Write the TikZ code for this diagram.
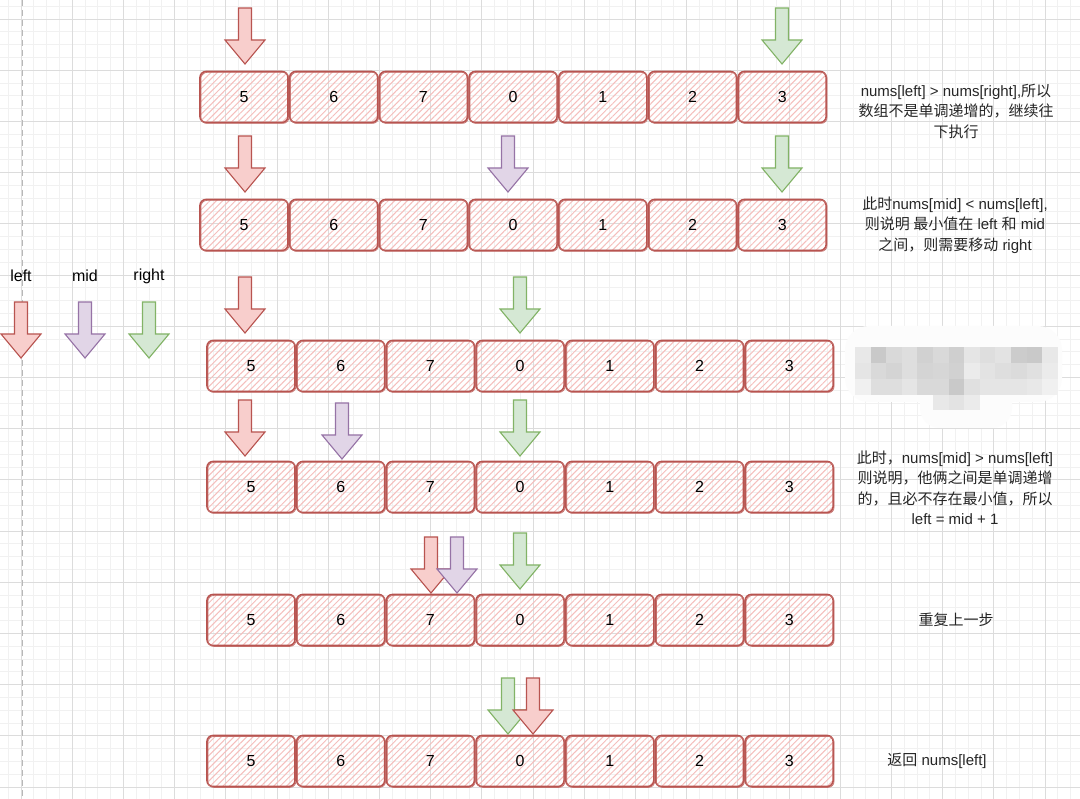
\documentclass[tikz,border=0pt]{standalone}
\usepackage{fontspec}
\setmainfont{Liberation Sans}
\newfontfamily\cjk{Noto Sans CJK SC}
\usetikzlibrary{positioning}
\usetikzlibrary{patterns.meta}

\definecolor{boxred}{HTML}{B85450}
\definecolor{hatch}{HTML}{F5BEBC}
\definecolor{redfill}{HTML}{F8CECC}
\definecolor{purfill}{HTML}{E1D5E7}
\definecolor{purline}{HTML}{9673A6}
\definecolor{grnfill}{HTML}{D5E8D4}
\definecolor{grnline}{HTML}{82B366}
\definecolor{minorgrid}{HTML}{F1F1F1}
\definecolor{majorgrid}{HTML}{DCDCDC}

\begin{document}
\begin{tikzpicture}[x=1pt,y=-1pt,
		cell/.style={minimum width=88pt,minimum height=51pt,inner sep=0pt,
			rounded corners=6pt,draw=boxred,line width=1.6pt,
			pattern={Lines[angle=45,distance=4.5pt,line width=1pt]},pattern color=hatch,
			font=\fontsize{16}{18}\selectfont,
			postaction={draw=boxred!85,line width=0.7pt,
				transform canvas={xshift=0.9pt,yshift=-0.9pt}}},
		note/.style={align=center,font=\fontsize{15}{20.5}\selectfont,text=black!85},
		lgd/.style={font=\fontsize{16}{18}\selectfont},
		lp/.style={fill=redfill,draw=boxred},
		mp/.style={fill=purfill,draw=purline},
		rp/.style={fill=grnfill,draw=grnline},
		ptr/.pic={\draw[pic actions,line width=1.1pt]
			(-6.5,-56) -- (6.5,-56) -- (6.5,-24) -- (20,-24) -- (0,0)
			-- (-20,-24) -- (-6.5,-24) -- cycle;}]
		\useasboundingbox (0,0) rectangle (1080,799);
		\fill[white] (0,0) rectangle (1080,799);
		% grid
		\foreach \i in {-1,...,83}
			\draw[minorgrid,line width=0.7pt] ({21+12.8*\i},0) -- ({21+12.8*\i},799);
		\foreach \j in {-1,...,61}
			\draw[minorgrid,line width=0.7pt] (0,{19+12.8*\j}) -- (1080,{19+12.8*\j});
		\foreach \i in {0,...,20}
			\draw[majorgrid,line width=0.8pt] ({21+51.2*\i},0) -- ({21+51.2*\i},799);
		\foreach \j in {0,...,15}
			\draw[majorgrid,line width=0.8pt] (0,{19+51.2*\j}) -- (1080,{19+51.2*\j});
		\draw[black!28,line width=1pt,dash pattern=on 6pt off 4pt] (22,0) -- (22,799);
		% arrays
		\foreach \r/\x/\y in {1/244/97,2/244/225,3/251/366,4/251/487,5/251/620,6/251/761}
			\foreach \v [count=\k] in {5,6,7,0,1,2,3}
				\node[cell] (r\r-\k) at ({\x+89.7*(\k-1)},\y) {\v};
		% legend
		\node[lgd] (kl) at (21,276) {left};
		\node[lgd] (km) at (85,276) {mid};
		\node[lgd] (kr) at (149,276) {right};
		\pic[lp] at (21,358) {ptr};
		\pic[mp] at (85,358) {ptr};
		\pic[rp] at (149,358) {ptr};
		% pointers per step
		\pic[lp] at (245,64) {ptr};
		\pic[rp] at (782,64) {ptr};
		\pic[lp] at (245,192) {ptr};
		\pic[mp] at (508,192) {ptr};
		\pic[rp] at (782,192) {ptr};
		\pic[lp] at (245,333) {ptr};
		\pic[rp] at (520,333) {ptr};
		\pic[lp] at (245,456) {ptr};
		\pic[mp] at (342,459) {ptr};
		\pic[rp] at (520,456) {ptr};
		\pic[lp] at (431,593) {ptr};
		\pic[mp] at (457,593) {ptr};
		\pic[rp] at (520,589) {ptr};
		\pic[rp] at (508,734) {ptr};
		\pic[lp] at (533,734) {ptr};
		% blurred note
		\fill[white!99!black,rounded corners=24pt] (845,326) rectangle (1062,402);
		\fill[white!99!black,rounded corners=20pt] (920,370) rectangle (1012,428);
		\foreach \g [count=\i] in {9,21,15,13,18,15,19,10,13,11,20,21,9}
			\fill[black!\g] ({855+15.6*(\i-1)},347) rectangle +(15.6,16);
		\foreach \g [count=\i] in {10,15,17,13,17,16,18,8,11,13,14,12,8}
			\fill[black!\g] ({855+15.6*(\i-1)},363) rectangle +(15.6,16);
		\foreach \g [count=\i] in {6,13,13,10,15,15,21,12,10,10,10,9,6}
			\fill[black!\g] ({855+15.6*(\i-1)},379) rectangle +(15.6,16);
		\foreach \g [count=\i] in {9,11,8}
			\fill[black!\g] ({933+15.6*(\i-1)},395) rectangle +(15.6,15);
		% notes
		\node[note] (n1) at (956,111) {nums[left] > nums[right],{\cjk 所以}\\
			{\cjk 数组不是单调递增的，继续往}\\{\cjk 下执行}};
		\node[note] (n2) at (955,225) {{\cjk 此时}nums[mid] < nums[left],\\
			{\cjk 则说明 最小值在} left {\cjk 和} mid\\{\cjk 之间，则需要移动} right};
		\node[note] (n4) at (955,488) {{\cjk 此时，}nums[mid] > nums[left]\\
			{\cjk 则说明，他俩之间是单调递增}\\{\cjk 的，且必不存在最小值，所以}\\
			left = mid + 1};
		\node[note] (n5) at (956,620) {\cjk 重复上一步};
		\node[note] (n6) at (937,761) {{\cjk 返回} nums[left]};
	\end{tikzpicture}
\end{document}
